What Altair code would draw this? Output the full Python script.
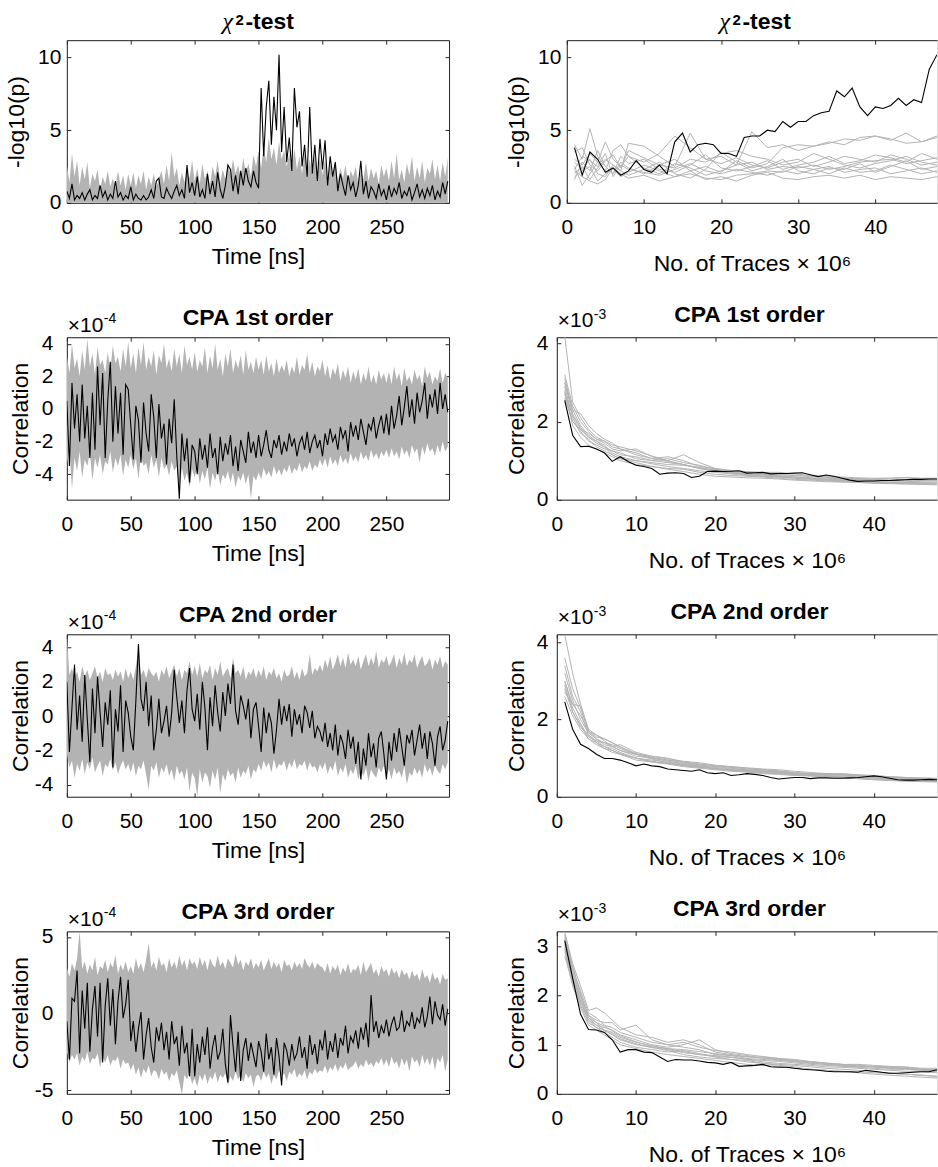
import altair as alt
import pandas as pd

FONT = "Liberation Sans"
GRAY = "#b3b3b3"
FRAME = "#262626"

# ---------------- shared axes data ----------------
TIME = list(range(0, 300, 2))                      # 150 samples (ns)
TRACES = list(range(1, 49))                        # 48 points (x 10^6 traces)
GX = [1, 2, 3, 4, 5, 6, 7, 8] + list(range(10, 49, 2))   # grid of the grey curves
TIME_TICKS = [0, 50, 100, 150, 200, 250]
TRACE_TICKS = [0, 10, 20, 30, 40]

# ---------------- chi^2 test vs time ----------------
CHI_T_BLACK = [0.8, 0.3, 1.3, 0.2, 0.5, 0.3, 0.7, 0.2, 0.6, 0.9, 0.2, 0.5, 0.3, 1.2, 0.4, 0.8, 0.2, 0.6, 0.3, 1.5, 0.4, 0.7, 0.2, 0.5, 0.3,
               1.1, 0.2, 0.6, 0.3, 0.2, 0.5, 0.2, 0.4, 0.9, 0.3, 1.5, 1.7, 0.4, 0.3, 1.0, 0.6, 0.3, 0.8, 1.2, 0.5, 0.9, 0.3, 2.6, 0.7, 1.4,
               0.5, 1.8, 0.4, 0.9, 0.3, 2.0, 0.6, 1.5, 0.4, 2.1, 0.9, 0.3, 1.2, 2.6, 2.3, 0.8, 1.9, 0.6, 2.2, 1.2, 2.4, 1.5, 1.1, 2.2, 1.4,
               1.0, 7.9, 3.2, 6.6, 8.4, 4.0, 7.3, 5.0, 10.2, 3.5, 6.6, 2.8, 4.5, 2.2, 7.9, 5.2, 6.3, 2.5, 4.0, 1.8, 6.6, 2.0, 4.0, 1.5, 4.4,
               2.3, 4.3, 1.2, 3.2, 1.8, 2.8, 0.8, 2.0, 1.2, 0.5, 1.9, 0.9, 1.4, 0.4, 1.2, 2.9, 0.6, 1.5, 0.3, 1.1, 0.8, 0.3, 1.3, 0.5, 0.9,
               0.2, 1.2, 0.4, 1.0, 0.6, 1.4, 0.3, 0.8, 0.5, 1.1, 0.2, 0.7, 1.3, 0.4, 0.9, 0.3, 1.0, 0.5, 1.2, 0.2, 0.8, 0.4, 1.4, 0.6, 1.5]
CHI_T_HI = [2.6, 1.4, 3.4, 1.8, 2.9, 1.2, 2.5, 1.6, 2.8, 1.0, 2.0, 1.5, 2.3, 0.9, 1.8, 1.3, 2.2, 1.1, 1.7, 1.0, 2.2, 1.2, 1.9, 0.9, 2.0,
            1.2, 2.1, 1.0, 1.9, 1.3, 2.2, 0.9, 1.8, 1.2, 2.0, 1.1, 1.6, 2.2, 1.3, 2.6, 1.5, 3.5, 1.8, 2.4, 1.2, 2.1, 1.4, 2.3, 1.7, 2.9,
            1.5, 2.4, 1.3, 2.7, 1.6, 2.2, 1.2, 2.5, 1.8, 2.9, 1.4, 2.3, 1.6, 2.8, 1.9, 3.0, 2.0, 2.6, 1.7, 3.1, 2.0, 2.7, 1.8, 3.3, 2.5,
            3.6, 2.4, 3.9, 2.8, 4.5, 3.0, 3.8, 2.6, 4.2, 3.0, 3.6, 2.5, 3.4, 2.2, 3.8, 2.3, 3.2, 2.0, 3.5, 2.1, 3.0, 1.9, 3.3, 2.0, 3.1,
            1.9, 3.0, 1.6, 2.7, 1.8, 2.9, 1.5, 2.4, 1.7, 2.6, 1.4, 2.2, 1.8, 2.5, 1.3, 2.3, 1.6, 2.8, 1.5, 2.4, 1.7, 2.2, 1.3, 2.6, 1.8,
            2.4, 1.5, 2.9, 1.7, 3.4, 1.6, 2.3, 1.4, 2.7, 1.9, 3.2, 1.5, 2.5, 1.7, 2.9, 1.4, 2.4, 2.0, 3.0, 1.6, 2.6, 1.5, 2.8, 1.8, 3.1]
CHI_T_LO = [0.0] * 150

# ---------------- CPA 1st order vs time (x 1e-4) ----------------
C1_T_BLACK = [0.5, -3.5, 1.6, -1.2, 0.9, -2.0, 1.5, -1.8, 0.2, -3.0, 1.0, -2.5, 2.6, -1.0, 2.2, -3.0, 0.5, 2.9, -2.0, 1.4, -1.5, 1.0, -2.8, 1.5, 1.2,
              -1.0, -3.1, 0.2, -0.7, -3.3, 0.4, -1.5, -2.6, 0.9, -0.5, -3.0, 0.3, -1.8, -0.9, -3.4, -0.6, -2.1, 0.6, -2.9, -5.5, -1.5, -3.2, -1.8, -4.5, -2.2,
              -2.6, -4.0, -1.8, -3.1, -2.2, -3.6, -1.5, -3.0, -2.4, -4.0, -1.7, -3.2, -2.1, -2.8, -1.6, -3.5, -2.3, -3.8, -1.9, -2.6, -3.3, -1.4, -2.7, -2.0, -3.0,
              -1.6, -2.9, -2.2, -1.3, -2.5, -3.0, -1.9, -2.4, -1.6, -2.8, -2.0, -2.6, -1.5, -2.3, -1.8, -2.9, -2.1, -1.7, -2.5, -1.4, -2.7, -2.0, -1.6, -2.4, -1.9,
              -2.9, -1.5, -2.2, -1.2, -2.0, -1.6, -2.5, -1.1, -1.8, -1.3, -2.6, -0.8, -1.7, -1.0, -1.9, -0.6, -1.4, -2.2, -0.9, -1.3, -0.5, -1.8, -1.0, -0.4, -1.5,
              -0.3, -1.6, 0.2, -1.2, -0.4, 0.8, -1.0, 0.1, 1.4, -0.5, 0.6, -0.9, 1.0, -0.2, 0.5, 1.6, -0.6, 0.9, 0.1, 1.2, -0.3, 1.6, 0.0, 0.9, -0.2]
C1_T_HI = [3.3, 2.2, 4.0, 2.5, 3.1, 2.0, 3.6, 2.4, 4.3, 2.6, 3.4, 2.1, 3.8, 2.7, 3.0, 2.2, 3.5, 2.4, 3.9, 2.8, 3.2, 2.3, 3.7, 2.6, 4.1,
           2.5, 3.4, 2.2, 3.8, 2.7, 4.1, 2.4, 3.2, 2.6, 3.6, 2.1, 3.3, 2.8, 4.0, 2.5, 3.1, 2.3, 3.7, 2.6, 3.4, 2.2, 3.9, 2.7, 3.2, 2.4,
           3.5, 2.3, 3.0, 2.6, 3.8, 2.2, 3.3, 2.5, 4.0, 2.4, 3.1, 2.0, 3.4, 2.6, 3.7, 2.2, 3.0, 2.5, 3.3, 2.1, 3.6, 2.4, 2.9, 2.2, 3.2,
           2.4, 3.0, 2.1, 3.3, 2.3, 2.8, 2.0, 3.1, 2.2, 2.7, 2.3, 3.0, 2.0, 2.6, 2.2, 3.2, 2.1, 2.7, 2.4, 3.4, 2.2, 2.9, 2.0, 2.6, 2.3,
           3.0, 2.0, 2.7, 1.8, 2.5, 2.1, 2.8, 1.7, 2.4, 1.9, 2.6, 1.6, 2.3, 1.8, 2.5, 1.5, 2.2, 1.7, 2.6, 1.6, 2.1, 1.5, 2.4, 1.8, 2.2,
           1.6, 2.3, 1.5, 2.6, 1.8, 2.2, 1.4, 2.5, 1.7, 2.0, 1.5, 2.4, 1.8, 2.1, 1.4, 2.6, 1.9, 2.3, 1.5, 2.0, 1.7, 2.5, 1.6, 2.2, 1.9]
C1_T_LO = [-3.4, -2.5, -4.9, -3.0, -3.8, -2.6, -4.2, -3.1, -3.5, -2.7, -4.4, -3.0, -3.6, -2.8, -4.0, -3.2, -3.4, -2.6, -3.9, -3.0, -3.5, -2.8, -4.1, -3.1, -3.6,
           -2.8, -3.7, -3.0, -4.3, -2.9, -3.5, -3.3, -4.0, -2.8, -3.6, -3.1, -4.2, -3.0, -3.7, -3.4, -4.1, -3.2, -3.8, -3.5, -5.2, -3.6, -4.4, -3.9, -4.8, -3.7,
           -4.2, -3.5, -4.6, -3.8, -4.3, -3.6, -4.9, -3.9, -4.4, -3.7, -4.7, -4.0, -4.3, -3.8, -4.5, -3.9, -4.8, -4.1, -4.4, -3.9, -4.6, -4.0, -5.5, -4.1, -4.4,
           -3.9, -4.3, -3.6, -4.1, -3.8, -4.2, -3.5, -4.0, -3.7, -4.1, -3.6, -3.9, -3.4, -4.0, -3.6, -3.8, -3.3, -3.9, -3.5, -3.7, -3.2, -3.8, -3.4, -3.6, -3.1,
           -3.5, -3.0, -3.6, -2.9, -3.4, -3.1, -3.5, -2.8, -3.3, -3.0, -3.4, -2.7, -3.2, -2.9, -3.3, -2.6, -3.1, -2.8, -3.2, -2.5, -3.0, -2.7, -3.1, -2.6, -2.9,
           -2.5, -3.0, -2.4, -2.9, -2.6, -3.1, -2.3, -2.8, -2.5, -3.0, -2.2, -2.7, -2.4, -3.3, -2.3, -2.8, -2.1, -2.6, -2.4, -2.9, -2.2, -2.7, -2.0, -2.6, -2.3]

# ---------------- CPA 2nd order vs time (x 1e-4) ----------------
C2_T_BLACK = [2.0, -2.1, 0.5, 3.0, -0.8, 1.2, -1.5, 2.4, -0.2, -2.7, 1.6, -1.0, 2.3, 0.2, -1.8, 0.8, -0.5, 1.5, -3.0, 0.4, -0.9, 1.8, -2.1, 0.9, 0.2,
              -1.2, -2.0, 0.9, 4.2, 1.0, 0.3, 2.0, -0.6, 1.2, -2.0, -0.8, 1.0, -1.0, -0.3, 0.6, -1.2, 0.2, 2.7, 1.1, -0.4, 0.9, -1.0, 1.5, 2.8, 0.4,
              -0.3, 1.3, -0.8, 2.0, 0.5, -2.0, 1.1, -0.6, 1.8, 0.2, -0.9, 1.4, 0.0, 1.9, 0.7, 3.0, 0.3, -0.5, 1.2, 0.6, -0.2, 1.0, -1.3, 0.4, 0.8,
              -0.6, -2.1, 0.5, -1.0, 0.2, -0.4, -2.2, -0.8, 1.0, -0.5, 0.6, -0.3, 0.7, -1.2, 0.4, -0.5, 0.1, -1.0, 0.6, 0.2, -0.7, 0.3, -1.3, -0.6, -0.9,
              -1.5, -0.4, -1.8, -1.0, -2.0, -0.5, -2.3, -1.1, -1.6, -2.5, -0.8, -1.9, -1.2, -2.8, -1.5, -3.7, -1.9, -2.9, -1.0, -2.4, -1.6, -3.0, -1.3, -0.9, -2.2,
              -3.7, -1.5, -2.6, -1.0, -2.1, -0.7, -1.8, -2.9, -1.1, -1.6, -0.8, -2.3, -1.4, -0.5, -1.9, -1.0, -2.5, -0.9, -1.6, -2.9, -1.2, -0.6, -2.0, -1.4, -0.3]
C2_T_HI = [4.7, 2.4, 2.8, 2.2, 2.6, 2.0, 2.9, 2.3, 2.7, 2.1, 2.5, 2.9, 2.2, 2.6, 2.0, 2.8, 2.4, 2.5, 2.1, 2.7, 2.3, 2.6, 2.0, 2.8, 2.2,
           2.6, 2.1, 2.9, 4.0, 2.4, 2.7, 2.2, 2.8, 2.5, 2.3, 2.6, 2.0, 2.7, 2.4, 2.9, 2.2, 2.6, 3.0, 2.3, 2.8, 2.1, 2.7, 2.5, 3.2, 2.4,
           2.9, 2.3, 3.1, 2.2, 2.7, 2.5, 3.0, 2.1, 2.8, 2.4, 3.2, 2.3, 2.6, 2.8, 2.2, 3.4, 2.5, 2.7, 2.3, 2.9, 2.1, 2.6, 2.4, 2.8, 2.2,
           2.7, 2.3, 2.9, 2.1, 2.6, 2.4, 2.8, 2.2, 2.5, 2.0, 2.7, 2.3, 2.4, 2.9, 2.2, 2.6, 2.1, 2.8, 2.3, 2.5, 3.6, 2.4, 2.8, 2.6, 3.0,
           2.6, 3.3, 2.8, 3.5, 2.7, 3.1, 3.6, 2.9, 3.4, 2.8, 3.7, 3.0, 3.3, 2.9, 3.5, 2.7, 3.2, 3.6, 2.9, 3.4, 3.0, 3.8, 2.8, 3.3, 3.1,
           3.5, 2.9, 3.2, 3.6, 2.8, 3.4, 3.0, 3.7, 2.9, 3.3, 3.1, 3.6, 2.8, 3.2, 3.5, 2.9, 3.1, 3.4, 2.7, 3.3, 3.0, 3.5, 2.8, 3.2, 3.0]
C2_T_LO = [-2.2, -3.0, -2.6, -3.6, -2.8, -3.2, -2.5, -3.4, -2.7, -3.1, -2.4, -3.3, -2.9, -2.6, -3.5, -2.8, -3.0, -2.5, -3.2, -2.7, -3.4, -2.9, -2.6, -3.1, -2.8,
           -3.3, -2.7, -3.5, -2.9, -3.1, -2.6, -3.4, -4.3, -2.9, -3.2, -2.7, -3.6, -3.0, -3.3, -2.8, -3.5, -3.1, -3.8, -2.9, -3.4, -3.2, -3.7, -3.0, -4.4, -3.3,
           -3.6, -4.7, -3.1, -3.9, -3.3, -3.5, -4.2, -3.2, -3.7, -3.0, -4.5, -3.4, -3.8, -3.1, -3.5, -3.3, -3.9, -3.0, -3.6, -3.2, -3.4, -2.9, -3.7, -3.1, -3.3,
           -2.8, -3.2, -2.6, -3.0, -2.7, -3.3, -2.5, -3.1, -2.8, -2.9, -2.6, -3.2, -2.7, -3.0, -2.5, -3.1, -2.8, -2.9, -2.6, -3.2, -2.7, -3.0, -2.9, -3.3, -2.8,
           -3.1, -2.7, -3.4, -2.9, -3.2, -2.6, -3.5, -3.0, -3.3, -2.8, -3.6, -3.1, -3.4, -2.9, -3.7, -3.2, -3.5, -3.0, -3.8, -3.1, -3.4, -3.6, -3.0, -3.3, -2.9,
           -3.5, -3.1, -3.7, -3.0, -3.4, -3.2, -3.6, -2.9, -4.0, -3.3, -3.5, -3.0, -3.4, -3.1, -3.6, -2.8, -3.3, -3.0, -3.5, -2.9, -3.2, -3.4, -2.8, -3.1, -2.7]

# ---------------- CPA 3rd order vs time (x 1e-4) ----------------
C3_T_BLACK = [-0.5, -3.0, 1.0, 0.8, 2.8, -2.6, 1.5, -1.0, 2.0, -2.5, 0.3, 1.8, -1.5, 2.0, -3.2, 0.5, 2.3, -0.8, 1.6, -2.0, 0.8, 2.4, -0.3, 0.6, 2.2,
              -1.8, -0.5, -2.5, -1.0, 0.1, -3.0, -1.4, -0.3, -2.2, -3.2, -0.9, -1.8, -0.6, -2.4, -1.2, -3.0, -0.5, -2.0, -1.5, -3.4, -0.8, -2.6, -1.9, -4.1, -1.0,
              -4.1, -2.0, -3.2, -1.5, -2.7, -0.9, -3.6, -2.2, -1.4, -3.0, -2.5, -1.0, -3.3, -4.5, -0.1, -2.1, -3.8, -1.2, -4.4, -2.4, -1.6, -3.1, -1.9, -2.7, -3.5,
              -1.8, -2.5, -3.8, -1.3, -3.0, -2.2, -4.0, -1.6, -2.8, -4.7, -1.9, -2.4, -3.4, -2.0, -3.0, -2.6, -1.5, -2.9, -2.2, -3.6, -1.4, -2.7, -2.0, -3.3, -1.7,
              -2.4, -1.1, -3.0, -1.8, -2.5, -1.3, -2.9, -1.6, -2.1, -0.8, -2.6, -1.5, -1.9, -1.1, -2.3, -0.9, -1.7, -0.6, -2.2, 1.2, -1.2, -0.5, -1.6, -0.8, -1.3,
              -0.4, -1.5, -0.7, -0.2, -1.1, -0.9, 0.2, -1.2, -0.5, -0.8, 0.1, -1.0, -0.3, -0.6, 0.4, -0.9, -0.2, 1.1, -0.7, 0.8, -0.1, -0.4, 0.6, -0.8, 0.3]
C3_T_HI = [3.0, 2.4, 3.3, 2.8, 3.6, 5.4, 2.9, 3.4, 2.6, 3.2, 2.8, 3.7, 2.5, 3.1, 2.9, 3.5, 2.7, 3.3, 3.0, 3.8, 2.6, 3.2, 2.8, 3.4, 2.7,
           3.1, 2.6, 3.6, 2.9, 3.3, 2.7, 3.5, 4.6, 3.0, 3.4, 2.8, 3.7, 3.1, 3.3, 2.7, 3.6, 3.0, 3.4, 2.9, 3.8, 3.1, 3.5, 2.8, 3.6, 3.2,
           3.4, 2.9, 3.7, 3.1, 3.5, 2.8, 3.6, 3.2, 3.0, 3.8, 3.1, 3.4, 2.9, 3.6, 3.3, 3.0, 3.9, 3.2, 3.5, 2.8, 3.4, 3.1, 3.6, 2.9, 3.3,
           3.0, 3.5, 2.8, 3.2, 3.6, 2.9, 3.4, 3.0, 3.3, 2.7, 3.5, 3.1, 3.2, 2.8, 3.4, 3.0, 3.3, 2.9, 3.6, 3.2, 3.0, 3.4, 2.9, 3.3, 3.1,
           3.0, 2.7, 3.3, 2.6, 3.1, 2.8, 3.2, 2.5, 3.0, 2.7, 3.3, 2.6, 2.9, 2.8, 3.2, 2.5, 3.4, 2.7, 3.0, 3.3, 2.6, 2.9, 2.4, 3.1, 2.7,
           2.9, 2.4, 3.0, 2.6, 2.8, 2.3, 2.9, 2.5, 2.7, 2.2, 2.8, 2.4, 2.6, 2.1, 2.9, 2.3, 2.5, 2.0, 2.7, 2.2, 2.4, 1.9, 2.6, 2.2, 2.3]
C3_T_LO = [-2.5, -3.2, -2.7, -3.0, -2.6, -3.4, -2.8, -3.1, -2.5, -3.3, -2.9, -3.0, -2.6, -3.5, -2.8, -3.2, -2.7, -3.4, -3.0, -3.1, -2.8, -3.6, -3.0, -3.3, -3.2,
           -3.7, -3.3, -4.0, -3.5, -4.2, -3.6, -3.9, -3.4, -4.1, -3.7, -3.8, -4.3, -3.6, -4.0, -3.8, -4.4, -3.9, -4.1, -3.7, -4.5, -5.3, -4.0, -4.3, -3.9, -4.6,
           -4.2, -4.8, -4.0, -4.4, -3.9, -4.6, -4.1, -4.3, -3.8, -4.5, -4.0, -4.2, -3.9, -4.7, -4.1, -4.4, -3.8, -4.3, -4.0, -4.5, -3.9, -4.2, -4.0, -4.8, -4.1,
           -4.0, -4.4, -3.8, -4.2, -3.9, -4.6, -4.0, -4.3, -3.7, -4.1, -3.9, -4.4, -3.8, -4.0, -3.6, -4.2, -3.9, -4.1, -3.7, -4.3, -3.8, -4.0, -3.6, -3.9, -3.7,
           -3.8, -3.4, -3.9, -3.5, -3.7, -3.3, -3.8, -3.4, -3.6, -3.2, -3.7, -3.5, -3.4, -3.1, -3.6, -3.3, -3.5, -3.0, -3.4, -3.2, -3.5, -3.1, -3.3, -2.9, -3.4,
           -3.0, -3.5, -2.8, -3.3, -3.1, -3.6, -2.9, -3.4, -3.0, -3.8, -2.8, -3.2, -3.0, -3.5, -2.7, -3.3, -2.9, -3.4, -2.8, -3.7, -2.9, -3.2, -2.7, -3.8, -3.0]

# ---------------- chi^2 test vs number of traces ----------------
CHI_N_BLACK = [3.8, 1.9, 3.5, 3.0, 2.1, 2.4, 1.9, 2.2, 2.9, 2.3, 2.1, 2.6, 2.0, 4.2, 4.8, 3.5, 4.0, 4.1, 4.0, 3.4, 3.4, 3.2, 4.5, 4.6,
               4.6, 5.0, 4.9, 5.6, 5.2, 5.6, 5.6, 6.0, 6.2, 6.3, 7.7, 7.3, 7.9, 6.6, 6.0, 6.6, 6.5, 6.7, 7.2, 6.7, 7.1, 6.9, 9.2, 10.2]
CHI_N_GRAY = [
    [4.0, 3.0, 5.1, 3.2, 2.5, 2.0, 2.8, 2.4, 2.0, 2.6, 3.0, 2.2, 2.5, 2.1, 2.9, 2.4, 2.7, 3.8, 4.0, 3.9, 4.2, 4.0, 4.5, 4.6, 4.3, 4.8, 4.2, 4.6],
    [2.0, 2.5, 1.6, 2.4, 3.0, 2.6, 2.2, 4.1, 3.9, 3.2, 2.5, 4.8, 3.0, 3.2, 2.6, 4.9, 3.8, 4.0, 3.6, 3.9, 4.1, 4.4, 4.3, 4.6, 4.4, 4.1, 4.2, 4.5],
    [2.5, 1.2, 2.0, 2.8, 2.2, 3.6, 4.0, 3.2, 2.4, 2.0, 2.7, 2.4, 1.9, 2.2, 2.6, 2.8, 2.3, 2.5, 2.4, 2.6, 2.3, 2.5, 2.8, 2.9, 3.0, 2.7, 2.9, 3.1],
    [1.8, 2.2, 2.5, 1.5, 2.0, 2.3, 1.8, 2.1, 2.6, 2.2, 1.8, 2.0, 1.7, 1.6, 1.9, 2.0, 2.2, 2.1, 2.5, 2.3, 2.0, 2.4, 2.1, 2.2, 2.6, 2.3, 2.0, 2.2],
    [3.0, 2.6, 3.4, 2.8, 4.2, 3.0, 2.5, 3.2, 2.8, 3.4, 4.6, 3.8, 3.0, 2.7, 3.1, 2.6, 2.4, 2.8, 3.0, 2.5, 2.8, 3.2, 3.0, 2.8, 3.3, 3.0, 2.6, 2.8],
    [2.2, 1.8, 1.5, 1.3, 1.6, 2.4, 2.0, 1.7, 1.9, 1.5, 1.8, 2.2, 1.6, 1.8, 1.5, 1.9, 2.1, 1.7, 1.6, 1.8, 1.9, 1.7, 1.9, 1.6, 1.8, 1.7, 1.6, 1.8],
    [1.6, 2.8, 2.2, 3.6, 2.5, 2.0, 3.2, 2.7, 3.0, 2.3, 2.1, 2.6, 3.3, 2.4, 2.2, 2.5, 2.9, 2.3, 2.6, 2.8, 3.2, 2.7, 2.9, 3.3, 3.1, 2.8, 3.4, 3.0],
    [2.8, 2.3, 3.0, 2.0, 1.8, 2.6, 2.2, 1.9, 2.3, 2.8, 2.0, 1.7, 2.3, 3.5, 2.8, 2.2, 2.5, 3.0, 2.2, 2.0, 2.4, 2.3, 2.7, 2.1, 2.5, 2.9, 2.3, 2.5],
    [3.5, 3.8, 2.6, 2.2, 2.9, 3.3, 2.4, 3.6, 3.1, 2.6, 2.4, 3.0, 2.8, 3.4, 3.6, 3.2, 3.0, 2.6, 2.8, 3.4, 3.0, 2.6, 2.4, 2.7, 2.9, 3.2, 2.8, 2.6],
    [2.3, 3.2, 2.9, 2.5, 3.4, 1.8, 2.6, 2.3, 2.1, 1.9, 2.3, 2.7, 2.2, 2.0, 2.3, 2.1, 1.9, 2.2, 2.0, 2.3, 2.5, 2.1, 2.3, 2.4, 2.0, 2.2, 2.4, 2.1],
]

# ---------------- CPA 1st order vs number of traces (x 1e-3) ----------------
C1_N_BLACK = [2.54, 1.65, 1.36, 1.37, 1.30, 1.20, 0.98, 1.10, 0.98, 0.88, 0.85, 0.80, 0.65, 0.68, 0.69, 0.67, 0.57, 0.60, 0.72, 0.73, 0.72, 0.73, 0.74, 0.68,
              0.69, 0.70, 0.66, 0.67, 0.67, 0.68, 0.69, 0.64, 0.59, 0.63, 0.60, 0.55, 0.50, 0.47, 0.48, 0.48, 0.49, 0.49, 0.50, 0.51, 0.52, 0.52, 0.53, 0.53]
C1_N_GRAY = [
    [4.2, 2.5, 2.1, 1.8, 1.6, 1.5, 1.35, 1.3, 1.2, 1.05, 1.1, 1.0, 0.85, 0.8, 0.72, 0.7, 0.68, 0.66, 0.62, 0.6, 0.58, 0.55, 0.54, 0.52, 0.5, 0.5, 0.49, 0.48],
    [3.2, 2.4, 2.0, 1.75, 1.55, 1.45, 1.3, 1.25, 1.3, 1.1, 1.0, 1.15, 0.95, 0.8, 0.75, 0.72, 0.7, 0.7, 0.66, 0.62, 0.6, 0.58, 0.56, 0.55, 0.55, 0.57, 0.55, 0.55],
    [3.0, 2.2, 1.85, 1.6, 1.5, 1.4, 1.2, 1.1, 1.0, 0.95, 0.9, 0.88, 0.82, 0.75, 0.7, 0.66, 0.64, 0.62, 0.58, 0.55, 0.53, 0.5, 0.48, 0.46, 0.45, 0.44, 0.43, 0.42],
    [2.9, 2.1, 1.7, 1.55, 1.35, 1.25, 1.15, 1.05, 0.95, 0.85, 0.8, 0.78, 0.7, 0.65, 0.62, 0.6, 0.58, 0.55, 0.52, 0.5, 0.48, 0.46, 0.45, 0.43, 0.42, 0.41, 0.40, 0.40],
    [2.7, 2.0, 1.75, 1.5, 1.4, 1.3, 1.25, 1.15, 1.1, 1.0, 0.95, 0.9, 0.8, 0.72, 0.68, 0.64, 0.6, 0.58, 0.56, 0.53, 0.5, 0.49, 0.47, 0.46, 0.45, 0.44, 0.43, 0.42],
    [3.1, 2.3, 1.9, 1.65, 1.5, 1.35, 1.25, 1.2, 1.05, 1.0, 1.05, 0.95, 0.88, 0.78, 0.7, 0.65, 0.63, 0.6, 0.57, 0.55, 0.52, 0.51, 0.5, 0.49, 0.5, 0.52, 0.51, 0.5],
    [2.8, 1.9, 1.6, 1.4, 1.3, 1.2, 1.1, 1.0, 0.9, 0.85, 0.78, 0.72, 0.65, 0.6, 0.58, 0.56, 0.55, 0.53, 0.5, 0.48, 0.46, 0.45, 0.44, 0.42, 0.41, 0.4, 0.39, 0.38],
    [2.6, 2.0, 1.8, 1.7, 1.55, 1.5, 1.4, 1.35, 1.25, 1.12, 1.0, 0.9, 0.82, 0.76, 0.7, 0.68, 0.66, 0.64, 0.62, 0.6, 0.57, 0.55, 0.53, 0.51, 0.49, 0.47, 0.46, 0.45],
    [3.0, 2.3, 2.2, 1.9, 1.7, 1.55, 1.45, 1.3, 1.15, 1.05, 0.98, 0.9, 0.8, 0.74, 0.68, 0.66, 0.64, 0.6, 0.58, 0.56, 0.55, 0.53, 0.52, 0.53, 0.55, 0.56, 0.53, 0.5],
    [2.75, 2.15, 1.8, 1.6, 1.45, 1.35, 1.15, 1.05, 1.0, 0.92, 0.85, 0.8, 0.74, 0.7, 0.66, 0.62, 0.6, 0.58, 0.55, 0.52, 0.5, 0.48, 0.47, 0.45, 0.44, 0.43, 0.42, 0.41],
]

# ---------------- CPA 2nd order vs number of traces (x 1e-3) ----------------
C2_N_BLACK = [2.46, 1.75, 1.36, 1.25, 1.10, 0.99, 0.99, 0.95, 0.88, 0.80, 0.85, 0.80, 0.78, 0.72, 0.70, 0.68, 0.66, 0.70, 0.62, 0.60, 0.62, 0.55, 0.57, 0.60,
              0.58, 0.55, 0.50, 0.46, 0.48, 0.50, 0.50, 0.47, 0.49, 0.49, 0.48, 0.48, 0.49, 0.50, 0.52, 0.54, 0.52, 0.48, 0.44, 0.43, 0.43, 0.44, 0.45, 0.44]
C2_N_GRAY = [
    [4.2, 3.2, 2.4, 1.75, 1.6, 1.45, 1.3, 1.35, 1.15, 1.05, 1.0, 0.9, 0.85, 0.8, 0.76, 0.72, 0.7, 0.66, 0.62, 0.6, 0.6, 0.58, 0.55, 0.54, 0.52, 0.5, 0.49, 0.48],
    [3.6, 2.8, 2.3, 1.7, 1.55, 1.5, 1.4, 1.3, 1.1, 1.0, 0.95, 0.9, 0.82, 0.78, 0.74, 0.7, 0.66, 0.64, 0.6, 0.58, 0.57, 0.56, 0.55, 0.5, 0.48, 0.46, 0.44, 0.43],
    [3.2, 2.5, 2.0, 1.65, 1.5, 1.35, 1.3, 1.2, 1.05, 1.0, 0.92, 0.86, 0.8, 0.76, 0.72, 0.7, 0.68, 0.65, 0.6, 0.58, 0.55, 0.54, 0.52, 0.5, 0.47, 0.45, 0.44, 0.42],
    [3.0, 2.3, 1.9, 1.55, 1.45, 1.3, 1.25, 1.15, 1.0, 0.95, 0.9, 0.84, 0.8, 0.72, 0.7, 0.66, 0.64, 0.62, 0.58, 0.55, 0.52, 0.5, 0.48, 0.46, 0.45, 0.43, 0.42, 0.4],
    [2.8, 2.2, 1.8, 1.6, 1.4, 1.25, 1.2, 1.1, 1.0, 0.9, 0.85, 0.78, 0.74, 0.7, 0.66, 0.64, 0.6, 0.58, 0.55, 0.54, 0.53, 0.52, 0.5, 0.48, 0.46, 0.44, 0.42, 0.41],
    [2.7, 2.4, 2.1, 1.7, 1.5, 1.4, 1.35, 1.25, 1.1, 1.05, 0.98, 0.92, 0.88, 0.82, 0.78, 0.75, 0.72, 0.7, 0.66, 0.63, 0.6, 0.6, 0.57, 0.55, 0.52, 0.5, 0.48, 0.47],
    [3.4, 2.6, 2.2, 1.6, 1.45, 1.4, 1.3, 1.2, 1.1, 0.98, 0.88, 0.82, 0.78, 0.74, 0.68, 0.65, 0.63, 0.6, 0.57, 0.55, 0.52, 0.5, 0.47, 0.44, 0.42, 0.4, 0.39, 0.38],
    [2.6, 2.1, 1.75, 1.5, 1.35, 1.25, 1.15, 1.1, 0.95, 0.9, 0.86, 0.8, 0.76, 0.73, 0.7, 0.68, 0.66, 0.63, 0.6, 0.59, 0.58, 0.57, 0.55, 0.53, 0.5, 0.48, 0.46, 0.45],
    [3.0, 2.4, 2.35, 1.7, 1.6, 1.5, 1.4, 1.28, 1.12, 1.02, 0.95, 0.88, 0.84, 0.8, 0.78, 0.74, 0.7, 0.67, 0.63, 0.6, 0.58, 0.57, 0.56, 0.54, 0.5, 0.47, 0.46, 0.45],
    [2.9, 2.2, 1.85, 1.5, 1.4, 1.3, 1.2, 1.12, 1.0, 0.92, 0.86, 0.82, 0.77, 0.72, 0.68, 0.65, 0.62, 0.6, 0.56, 0.54, 0.52, 0.5, 0.47, 0.45, 0.43, 0.42, 0.41, 0.4],
]

# ---------------- CPA 3rd order vs number of traces (x 1e-3) ----------------
C3_N_BLACK = [3.12, 2.35, 1.62, 1.31, 1.30, 1.25, 1.10, 0.85, 0.90, 0.90, 0.85, 0.84, 0.75, 0.66, 0.70, 0.69, 0.69, 0.67, 0.64, 0.63, 0.60, 0.64, 0.56, 0.57,
              0.58, 0.60, 0.55, 0.54, 0.54, 0.52, 0.50, 0.49, 0.48, 0.46, 0.45, 0.45, 0.45, 0.44, 0.48, 0.46, 0.44, 0.42, 0.42, 0.43, 0.44, 0.45, 0.45, 0.49]
C3_N_GRAY = [
    [3.3, 2.65, 2.2, 1.7, 1.75, 1.65, 1.5, 1.35, 1.2, 1.15, 1.05, 1.1, 1.0, 0.85, 0.8, 0.75, 0.75, 0.72, 0.68, 0.65, 0.62, 0.6, 0.58, 0.56, 0.55, 0.54, 0.5, 0.48],
    [3.2, 2.5, 2.0, 1.6, 1.5, 1.45, 1.45, 1.3, 1.4, 1.1, 1.0, 0.95, 0.9, 0.8, 0.78, 0.76, 0.73, 0.7, 0.65, 0.62, 0.6, 0.57, 0.55, 0.55, 0.53, 0.52, 0.5, 0.48],
    [3.1, 2.4, 1.9, 1.55, 1.4, 1.35, 1.3, 1.2, 1.1, 1.0, 0.95, 1.0, 1.1, 0.9, 0.82, 0.78, 0.72, 0.7, 0.68, 0.65, 0.62, 0.6, 0.6, 0.58, 0.56, 0.55, 0.52, 0.52],
    [3.0, 2.3, 1.8, 1.45, 1.35, 1.25, 1.15, 1.05, 0.95, 0.9, 0.85, 0.88, 0.82, 0.75, 0.7, 0.65, 0.62, 0.6, 0.58, 0.55, 0.52, 0.5, 0.48, 0.45, 0.42, 0.4, 0.38, 0.36],
    [2.9, 2.2, 1.75, 1.4, 1.3, 1.2, 1.1, 1.0, 0.92, 0.85, 0.8, 0.76, 0.72, 0.68, 0.64, 0.6, 0.58, 0.56, 0.52, 0.5, 0.48, 0.46, 0.45, 0.43, 0.42, 0.4, 0.38, 0.35],
    [3.15, 2.55, 2.1, 1.65, 1.55, 1.4, 1.35, 1.25, 1.15, 1.05, 1.0, 1.05, 0.95, 0.88, 0.85, 0.8, 0.76, 0.72, 0.7, 0.66, 0.63, 0.6, 0.57, 0.55, 0.52, 0.5, 0.48, 0.45],
    [2.8, 2.25, 1.85, 1.5, 1.35, 1.3, 1.2, 1.1, 1.0, 0.95, 0.88, 0.8, 0.75, 0.72, 0.7, 0.68, 0.62, 0.58, 0.55, 0.5, 0.48, 0.45, 0.43, 0.4, 0.38, 0.36, 0.34, 0.32],
    [3.05, 2.45, 1.95, 1.6, 1.45, 1.3, 1.25, 1.15, 1.05, 0.98, 0.92, 0.86, 0.8, 0.76, 0.74, 0.7, 0.68, 0.66, 0.63, 0.6, 0.58, 0.56, 0.54, 0.52, 0.5, 0.5, 0.48, 0.47],
    [2.95, 2.35, 1.9, 1.5, 1.4, 1.28, 1.22, 1.12, 1.02, 0.94, 0.9, 0.84, 0.8, 0.78, 0.75, 0.7, 0.65, 0.62, 0.6, 0.58, 0.55, 0.54, 0.52, 0.5, 0.48, 0.46, 0.45, 0.43],
    [3.25, 2.6, 2.05, 1.55, 1.45, 1.38, 1.28, 1.18, 1.06, 0.96, 0.92, 0.9, 0.86, 0.82, 0.78, 0.72, 0.7, 0.68, 0.66, 0.63, 0.6, 0.58, 0.57, 0.55, 0.54, 0.52, 0.5, 0.49],
]

# ---------------- layout / style ----------------
LAB = 21        # tick label size
TIT = 23        # axis title / panel title size
W_L, W_R1, W_R = 383, 371, 381
H1, H = 163, 162.8
ROW_PITCH = 297.7
XLAB_PAD = 18
ONE = pd.DataFrame({"k": [0]})


def bottom_axis(values, title, title_pad):
    return alt.Axis(orient="bottom", values=values, labelExpr="'' + datum.value",
                    labelFont=FONT, labelFontSize=LAB, labelColor="black",
                    labelPadding=XLAB_PAD, labelFlush=False, labelOverlap=False,
                    tickSize={"expr": "-4"}, tickColor=FRAME, tickWidth=1,
                    domain=True, domainColor=FRAME, domainWidth=1, grid=False,
                    title=title, titleFont=FONT, titleFontSize=TIT,
                    titleFontWeight="normal", titleColor="black", titlePadding=title_pad)


def left_axis(values, title, lab_pad, title_pad):
    return alt.Axis(orient="left", values=values, labelExpr="'' + datum.value",
                    labelFont=FONT, labelFontSize=LAB, labelColor="black",
                    labelPadding=lab_pad, labelOverlap=False,
                    tickSize={"expr": "-4"}, tickColor=FRAME, tickWidth=1,
                    domain=True, domainColor=FRAME, domainWidth=1, grid=False,
                    title=title, titleFont=FONT, titleFontSize=TIT,
                    titleFontWeight="normal", titleColor="black", titlePadding=title_pad)


def top_axis(values):
    return alt.Axis(orient="top", values=values, labels=False,
                    tickSize={"expr": "-4"}, tickColor=FRAME, tickWidth=1,
                    domain=True, domainColor=FRAME, domainWidth=1, grid=False)


def right_axis(values):
    return alt.Axis(orient="right", values=values, labels=False,
                    tickSize={"expr": "-4"}, tickColor=FRAME, tickWidth=1,
                    domain=True, domainColor=FRAME, domainWidth=1, grid=False)


def txt(s, x, y, size, weight="normal", font=FONT, style="normal", align="left"):
    return alt.Chart(ONE).mark_text(text=s, font=font, fontSize=size, fontWeight=weight,
                                    fontStyle=style, align=align, baseline="alphabetic",
                                    color="black").encode(x=alt.value(x), y=alt.value(y))


def chi_title(x0):
    return [txt("χ", x0, -11, 24, font="Liberation Serif", style="italic"),
            txt("2", x0 + 13, -15, 15, weight="bold"),
            txt("-test", x0 + 23, -11, TIT, weight="bold")]


def cpa_title(text, cx, y):
    return [txt(text, cx, y, TIT, weight="bold", align="center")]


def expo(power, dy, dy_sup):
    return [txt("×10", 1, dy, LAB), txt(power, 37, dy_sup, 14)]


def left_panel(black, hi, lo, ydom, yticks, ytitle, height, ylab_pad, ytitle_pad,
               extra=(), xtitle_pad=8):
    assert len(black) == len(TIME) and len(hi) == len(TIME) and len(lo) == len(TIME)
    xs = alt.Scale(domain=[0, 299], nice=False, zero=False)
    ys = alt.Scale(domain=ydom, nice=False, zero=False)
    band_df = pd.DataFrame({"t": TIME, "hi": hi, "lo": lo})
    line_df = pd.DataFrame({"t": TIME, "v": black})
    xa = bottom_axis(TIME_TICKS, "Time [ns]", xtitle_pad)
    ya = left_axis(yticks, ytitle, ylab_pad, ytitle_pad)
    band = alt.Chart(band_df).mark_area(color=GRAY, clip=True).encode(
        x=alt.X("t:Q", scale=xs, axis=xa), y=alt.Y("hi:Q", scale=ys, axis=ya), y2="lo:Q")
    blk = alt.Chart(line_df).mark_line(color="black", strokeWidth=1.1, clip=True).encode(
        x=alt.X("t:Q", scale=xs, axis=xa), y=alt.Y("v:Q", scale=ys, axis=ya))
    ghost = alt.Chart(line_df).mark_line(strokeOpacity=0).encode(
        x=alt.X("t:Q", scale=xs, axis=top_axis(TIME_TICKS), title=None),
        y=alt.Y("v:Q", scale=ys, axis=right_axis(yticks), title=None))
    inner = alt.layer(band, blk, *extra)
    return alt.layer(inner, ghost).resolve_axis(x="independent", y="independent").properties(
        width=W_L, height=height)


def right_panel(black, grays, ydom, yticks, ytitle, width, height, ylab_pad, ytitle_pad,
                extra=(), xtitle_pad=15):
    assert len(black) == len(TRACES)
    rows = []
    for i, s in enumerate(grays):
        assert len(s) == len(GX)
        rows += [{"x": x, "v": v, "g": i} for x, v in zip(GX, s)]
    gdf = pd.DataFrame(rows)
    line_df = pd.DataFrame({"x": TRACES, "v": black})
    xs = alt.Scale(domain=[0, 48], nice=False, zero=False)
    ys = alt.Scale(domain=ydom, nice=False, zero=False)
    xa = bottom_axis(TRACE_TICKS, "No. of Traces × 10⁶", xtitle_pad)
    ya = left_axis(yticks, ytitle, ylab_pad, ytitle_pad)
    gl = alt.Chart(gdf).mark_line(color=GRAY, strokeWidth=1, clip=True).encode(
        x=alt.X("x:Q", scale=xs, axis=xa), y=alt.Y("v:Q", scale=ys, axis=ya), detail="g:N")
    blk = alt.Chart(line_df).mark_line(color="black", strokeWidth=1.1, clip=True).encode(
        x=alt.X("x:Q", scale=xs, axis=xa), y=alt.Y("v:Q", scale=ys, axis=ya))
    ghost = alt.Chart(line_df).mark_line(strokeOpacity=0).encode(
        x=alt.X("x:Q", scale=xs, axis=top_axis(TRACE_TICKS), title=None),
        y=alt.Y("v:Q", scale=ys, axis=None))
    inner = alt.layer(gl, blk, *extra)
    return alt.layer(inner, ghost).resolve_axis(x="independent", y="independent").properties(
        width=width, height=height)


LEFT_DECOR = lambda t: cpa_title(t, W_L / 2, -12.5) + expo("-4", -5.5, -14.5)
RIGHT_DECOR = lambda t: cpa_title(t, W_R / 2 + 2.5, -15.5) + expo("-3", -10, -18.5)

p1L = left_panel(CHI_T_BLACK, CHI_T_HI, CHI_T_LO, [0, 11.2], [0, 5, 10], "-log10(p)", H1,
                 ylab_pad=10, ytitle_pad=9, extra=chi_title(156))
p1R = right_panel(CHI_N_BLACK, CHI_N_GRAY, [0, 11.2], [0, 5, 10], "-log10(p)", W_R1, H1,
                  ylab_pad=10, ytitle_pad=9, extra=chi_title(153))
p2L = left_panel(C1_T_BLACK, C1_T_HI, C1_T_LO, [-5.56, 4.4], [-4, -2, 0, 2, 4], "Correlation", H,
                 ylab_pad=18, ytitle_pad=2, extra=LEFT_DECOR("CPA 1st order"))
p2R = right_panel(C1_N_BLACK, C1_N_GRAY, [0, 4.16], [0, 2, 4], "Correlation", W_R, H,
                  ylab_pad=13, ytitle_pad=8, extra=RIGHT_DECOR("CPA 1st order"))
p3L = left_panel(C2_T_BLACK, C2_T_HI, C2_T_LO, [-4.71, 4.77], [-4, -2, 0, 2, 4], "Correlation", H,
                 ylab_pad=18, ytitle_pad=2, extra=LEFT_DECOR("CPA 2nd order"))
p3R = right_panel(C2_N_BLACK, C2_N_GRAY, [0, 4.21], [0, 2, 4], "Correlation", W_R, H,
                  ylab_pad=13, ytitle_pad=8, extra=RIGHT_DECOR("CPA 2nd order"))
p4L = left_panel(C3_T_BLACK, C3_T_HI, C3_T_LO, [-5.24, 5.36], [-5, 0, 5], "Correlation", H,
                 ylab_pad=18, ytitle_pad=2, extra=LEFT_DECOR("CPA 3rd order"))
p4R = right_panel(C3_N_BLACK, C3_N_GRAY, [0, 3.31], [0, 1, 2, 3], "Correlation", W_R, H,
                  ylab_pad=13, ytitle_pad=8, extra=RIGHT_DECOR("CPA 3rd order"))

row1 = alt.hconcat(p1L, p1R, spacing=118, bounds="flush")
row2 = alt.hconcat(p2L, p2R, spacing=108, bounds="flush")
row3 = alt.hconcat(p3L, p3R, spacing=108, bounds="flush")
row4 = alt.hconcat(p4L, p4R, spacing=108, bounds="flush")

# with flush bounds the nested rows count as zero-height, so spacing is the row pitch
chart = alt.vconcat(row1, row2, row3, row4, spacing=ROW_PITCH, bounds="flush").properties(
    padding={"left": 5, "top": 8, "right": 0, "bottom": 0},
    background="white",
).configure_view(stroke="transparent", strokeWidth=0).configure(font=FONT)

chart.save("out.html", embed_options={"renderer": "svg", "actions": False})
